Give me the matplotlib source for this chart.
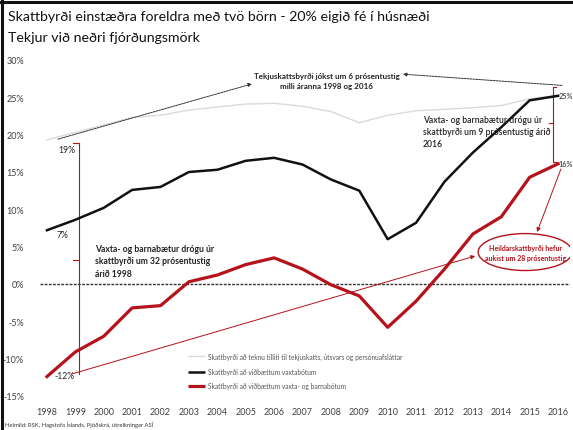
import matplotlib
matplotlib.use("Agg")
import matplotlib.pyplot as plt
from matplotlib.patches import Ellipse
from matplotlib.lines import Line2D

plt.rcParams['font.family'] = ['Lato', 'DejaVu Sans']

years = list(range(1998, 2017))
# Skattbyrði að teknu tilliti til tekjuskatts, útsvars og persónuafsláttar
income_tax = [19.3, 20.3, 21.3, 22.3, 22.6, 23.3, 23.7, 24.1, 24.2, 23.8,
              23.1, 21.6, 22.6, 23.2, 23.4, 23.6, 23.9, 24.8, 25.3]
# Skattbyrði að viðbættum vaxtabótum
with_interest = [7.2, 8.6, 10.2, 12.6, 13.0, 15.0, 15.3, 16.5, 16.9, 16.0,
                 14.0, 12.5, 6.0, 8.2, 13.7, 17.6, 21.0, 24.6, 25.2]
# Skattbyrði að viðbættum vaxta- og barnabótum
with_interest_child = [-12.4, -9.1, -7.0, -3.2, -2.9, 0.3, 1.2, 2.6, 3.5, 2.0,
                       -0.1, -1.6, -5.8, -2.3, 2.0, 6.7, 9.0, 14.3, 16.1]

y_ticks = [-15, -10, -5, 0, 5, 10, 15, 20, 25, 30]
y_tick_labels = [f"{v}%" for v in y_ticks]

legend_labels = [
    "Skattbyrði að teknu tilliti til tekjuskatts, útsvars og persónuafsláttar",
    "Skattbyrði að viðbættum vaxtabótum",
    "Skattbyrði að viðbættum vaxta- og barnabótum",
]

W, H = 573, 431
fig = plt.figure(figsize=(W / 100, H / 100), dpi=100)
fig.patch.set_facecolor('white')

# axes placed so that 30% sits at px 61 and -15% at px 397
ax_left, ax_right = 35, 570
ax_top, ax_bot = 61, 397
ax = fig.add_axes([ax_left / W, 1 - ax_bot / H, (ax_right - ax_left) / W, (ax_bot - ax_top) / H])
ax.set_xlim(1997.58, 2016.42)
ax.set_ylim(-15, 30)
for s in ax.spines.values():
    s.set_visible(False)
ax.tick_params(length=0, colors='#404040', labelsize=6.5)
ax.tick_params(axis='y', pad=8)
ax.tick_params(axis='x', pad=8)
ax.set_yticks(y_ticks)
ax.set_yticklabels(y_tick_labels)
ax.set_xticks(years)
ax.set_xticklabels([str(y) for y in years])

red = '#B5121B'
gray = '#dadada'

ax.axhline(0, color='#303030', lw=1.0, ls=(0, (2, 1)), xmin=0.01, zorder=1)

ax.plot(years, income_tax, color=gray, lw=1.0, zorder=2)
ax.plot(years, with_interest, color='#111111', lw=1.8, zorder=3)
ax.plot(years, with_interest_child, color=red, lw=2.3, zorder=3)

bold = dict(fontweight='bold', color='#222222')

# income tax growth note with dashed arrows
ax.text(2007.86, 27.3, "Tekjuskattsbyrði jókst um 6 prósentustig\nmilli áranna 1998 og 2016",
        ha='center', va='center', fontsize=5.8, linespacing=1.5, **bold)
ax.annotate("", xy=(2005.22, 26.8), xytext=(1998.39, 19.4),
            arrowprops=dict(arrowstyle='-|>', color='#333333', lw=0.7, ls=(0, (2, 1)),
                            mutation_scale=5, shrinkA=0, shrinkB=0))
ax.annotate("", xy=(2010.54, 28.1), xytext=(2016.14, 26.6),
            arrowprops=dict(arrowstyle='-|>', color='#333333', lw=0.7, ls=(0, (2, 1)),
                            mutation_scale=5, shrinkA=0, shrinkB=0), annotation_clip=False)

# value labels
lab = dict(fontsize=6.2, color='#222222')
ax.text(1998.39, 18.0, "19%", ha='left', va='center', **lab)
ax.text(1998.35, 6.6, "7%", ha='left', va='center', **lab)
ax.text(1998.63, -12.3, "-12%", ha='center', va='center', **lab)
ax.text(2016.02, 25.2, "25%", ha='left', va='center', clip_on=False, fontsize=5.2, color='#222222')
ax.text(2016.02, 16.1, "16%", ha='left', va='center', clip_on=False, fontsize=5.2, color='#222222')

# left bracket 1998
bx = 1999.13
ax.plot([bx, bx], [18.9, -12.05], color=red, lw=0.8)
ax.plot([bx - 0.22, bx], [18.9, 18.9], color=red, lw=0.8)
ax.plot([bx - 0.22, bx], [3.2, 3.2], color=red, lw=0.8)
ax.text(1999.69, 5.4, "Vaxta- og barnabætur drógu úr\nskattbyrði um 32 prósentustig\nárið 1998",
        ha='left', va='top', fontsize=6.2, linespacing=1.45, **bold)

# right bracket 2016
rx = 2015.82
ax.plot([rx, rx], [26.4, 16.3], color=red, lw=0.8, clip_on=False)
ax.plot([rx, rx + 0.12], [26.4, 26.4], color=red, lw=0.8, clip_on=False)
ax.plot([rx - 0.15, rx], [21.55, 21.55], color=red, lw=0.8)
ax.plot([rx, rx + 0.12], [16.3, 16.3], color=red, lw=0.8, clip_on=False)
ax.text(2011.24, 22.7, "Vaxta- og barnabætur drógu úr\nskattbyrði um 9 prósentustig árið\n2016",
        ha='left', va='top', fontsize=6.2, linespacing=1.45, color='#222222', fontweight='semibold')

# overall tax burden callout
ax.annotate("", xy=(2013.08, 3.75), xytext=(1998.88, -12.05),
            arrowprops=dict(arrowstyle='-|>', color=red, lw=0.7, mutation_scale=6,
                            shrinkA=0, shrinkB=0))
ax.annotate("", xy=(2015.26, 6.96), xytext=(2016.1, 15.4),
            arrowprops=dict(arrowstyle='-|>', color=red, lw=0.7, mutation_scale=6,
                            shrinkA=0, shrinkB=0), annotation_clip=False)
ax.add_patch(Ellipse((2014.84, 4.28), 3.31, 4.95, facecolor='white', edgecolor=red,
                     lw=1.0, zorder=4))
ax.text(2014.84, 4.28, "Heildarskattbyrði hefur\naukist um 28 prósentustig", ha='center',
        va='center', fontsize=5.0, color=red, fontweight='bold', linespacing=1.5, zorder=5)

# legend drawn inside the plot
leg_y = [-9.64, -11.78, -13.65]
leg_styles = [(gray, 1.0), ('#111111', 1.8), (red, 2.3)]
for yy, (c, w), t in zip(leg_y, leg_styles, legend_labels):
    ax.plot([2002.97, 2003.57], [yy, yy], color=c, lw=w, solid_capstyle='butt')
    ax.text(2003.66, yy, t, ha='left', va='center', fontsize=4.8, color='#555555')

# titles
fig.text(8 / W, 1 - 17 / H, "Skattbyrði einstæðra foreldra með tvö börn - 20% eigið fé í húsnæði",
         ha='left', va='center', fontsize=10.2, color='#111111')
fig.text(8 / W, 1 - 38 / H, "Tekjur við neðri fjórðungsmörk",
         ha='left', va='center', fontsize=10.2, color='#111111')
fig.text(5 / W, 1 - 425 / H, "Heimild: RSK, Hagstofa Íslands, Þjóðskrá, útreikningar ASÍ",
         ha='left', va='center', fontsize=4.2, color='#333333')

# frame lines along the top and left edges
fig.add_artist(Line2D([0, 1], [1 - 3 / H, 1 - 3 / H], transform=fig.transFigure, color='#111111', lw=2.2))
fig.add_artist(Line2D([2 / W, 2 / W], [0, 1], transform=fig.transFigure, color='#111111', lw=2.2))

fig.savefig("out.png", dpi=100, facecolor='white')
